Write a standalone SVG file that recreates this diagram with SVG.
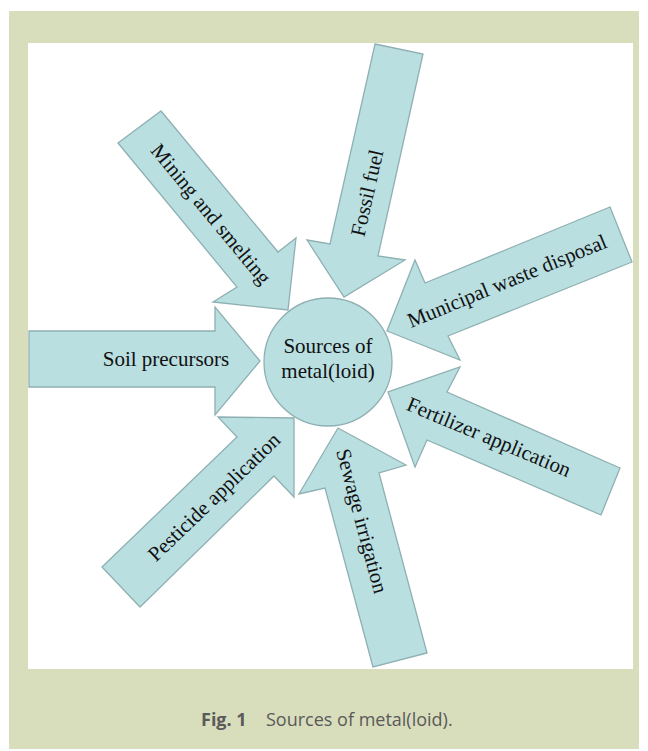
<svg xmlns="http://www.w3.org/2000/svg" width="648" height="751" viewBox="0 0 648 751">
<style>
.arrow{fill:#b9dfe1;stroke:#8fb0b2;stroke-width:1.3;stroke-linejoin:miter}
.lbl{font-family:"Liberation Serif","Times New Roman",serif;font-size:21px;fill:#111;text-anchor:middle}
.cap{font-family:"Open Sans","Liberation Sans",sans-serif;font-size:18px;fill:#5a5a5a}
</style>
<rect x="0" y="0" width="648" height="751" fill="#ffffff"/>
<rect x="9" y="11" width="630" height="738" fill="#d8ddbc"/>
<rect x="28" y="43" width="605" height="626" fill="#ffffff"/>
<g id="connectors">
<g id="mining">
<polygon class="arrow" points="118,143 161,111 278,252 296,238 288,310 213,302 237,287"/>
<text class="lbl" transform="translate(211,214) rotate(50.4)" x="0" y="7">Mining and smelting</text>
</g>
<g id="fossil">
<polygon class="arrow" points="375,44 423,54 378,256 405,260 344,297 307,240 330,244"/>
<text class="lbl" transform="translate(367,193) rotate(-77.3)" x="0" y="7">Fossil fuel</text>
</g>
<g id="municipal">
<polygon class="arrow" points="610,207 632,262 448,336 460,360 387,331 415,260 425,283"/>
<text class="lbl" transform="translate(507,281) rotate(-22.3)" x="0" y="7">Municipal waste disposal</text>
</g>
<g id="soil">
<polygon class="arrow" points="29,331 215,331 215,307 260,361 215,415 215,387 29,387"/>
<text class="lbl" x="166" y="366">Soil precursors</text>
</g>
<g id="fertilizer">
<polygon class="arrow" points="620,468 601,515 427,440 415,467 388,392 460,367 447,392"/>
<text class="lbl" transform="translate(489,437) rotate(22.7)" x="0" y="7">Fertilizer application</text>
</g>
<g id="pesticide">
<polygon class="arrow" points="102,567 237,437 218,417 294,418 294,497 274,476 140,607"/>
<text class="lbl" transform="translate(214,497) rotate(-43.9)" x="0" y="7">Pesticide application</text>
</g>
<g id="sewage">
<polygon class="arrow" points="373,667 325,488 299,494 338,428 406,465 379,473 427,653"/>
<text class="lbl" transform="translate(362,521) rotate(75)" x="0" y="7">Sewage irrigation</text>
</g>
</g>
<g id="center">
<circle cx="328" cy="362" r="64" class="arrow"/>
<text class="lbl" x="328" y="353">Sources of</text>
<text class="lbl" x="328" y="378">metal(loid)</text>
</g>
<g id="caption">
<text class="cap" x="201" y="726" font-weight="bold">Fig. 1</text>
<text class="cap" x="266" y="726">Sources of metal(loid).</text>
</g>
</svg>
